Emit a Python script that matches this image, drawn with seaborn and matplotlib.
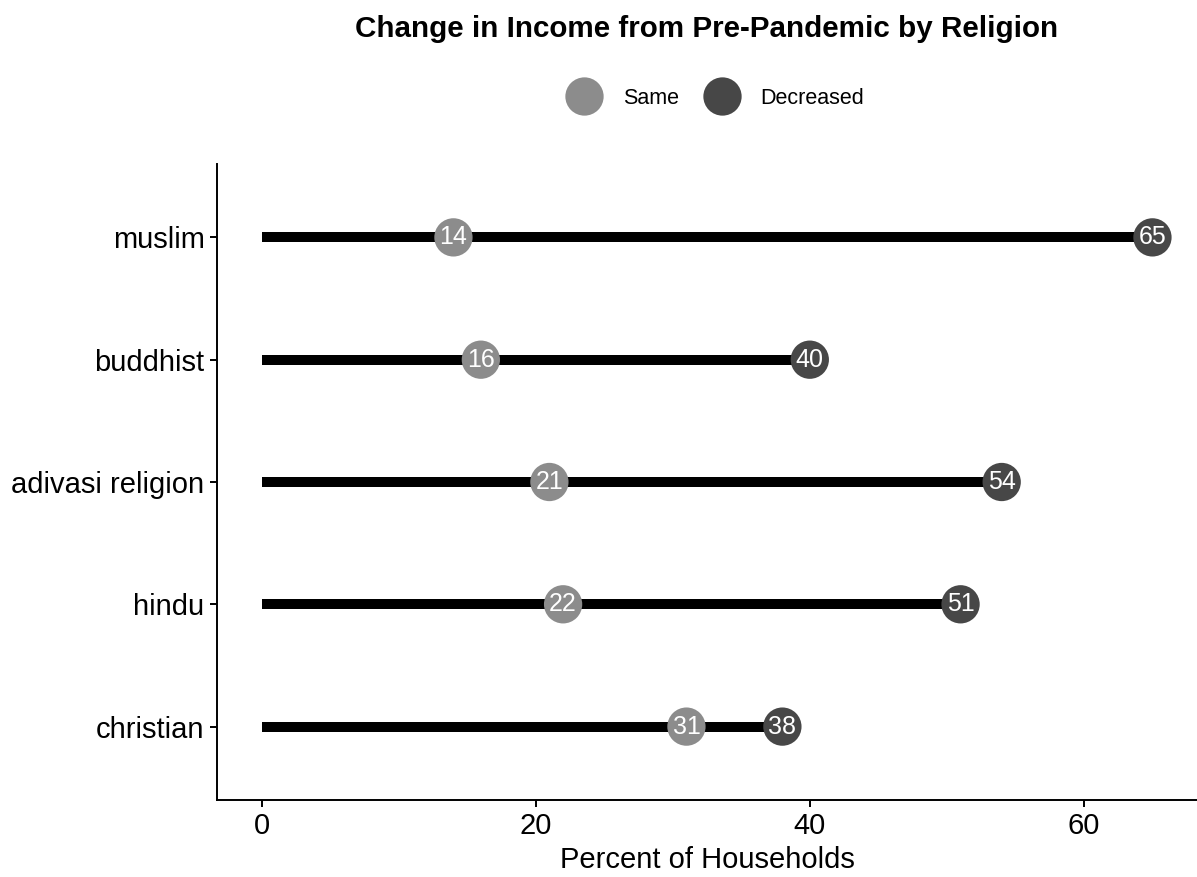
import matplotlib
matplotlib.use("Agg")
import matplotlib.pyplot as plt
import numpy as np
import pandas as pd
import seaborn as sns

sns.set_theme(style="ticks")
plt.rcParams['font.family'] = ['Liberation Sans', 'DejaVu Sans']

# data (bottom to top)
religions = ['christian', 'hindu', 'adivasi religion', 'buddhist', 'muslim']
same_pct = [31, 22, 21, 16, 14]
decreased_pct = [38, 51, 54, 40, 65]

df = pd.DataFrame({
    'religion': religions * 2,
    'status': ['Same'] * len(religions) + ['Decreased'] * len(religions),
    'pct': same_pct + decreased_pct,
})

palette = {'Same': '#8c8c8c', 'Decreased': '#474747'}

fig = plt.figure(figsize=(11.97, 8.77), dpi=100)
ax = fig.add_axes([0.1813, 0.0878, 0.8187, 0.7252])

sns.scatterplot(data=df, x='pct', y='religion', hue='status', hue_order=['Same', 'Decreased'],
                palette=palette, s=760, linewidth=0, ax=ax, zorder=3)

# thick black bar from 0 to the larger value
ax.hlines(y=religions, xmin=0, xmax=np.maximum(same_pct, decreased_pct),
          color='black', linewidth=7.2, zorder=1)

# value labels inside the dots
for _, r in df.iterrows():
    ax.text(r['pct'], r['religion'], f"{r['pct']}", color='white', fontsize=18,
            ha='center', va='center', zorder=4)

ax.set_xlim(-3.25, 68.25)
ax.set_ylim(-0.6, 4.6)
ax.set_xticks([0, 20, 40, 60])
ax.set_xlabel('Percent of Households', fontsize=21, color='black', labelpad=4)
ax.set_ylabel('')
ax.tick_params(axis='both', labelsize=21, labelcolor='black', length=5, width=1.4,
               color='black', pad=4)
for side in ['left', 'bottom']:
    ax.spines[side].set_linewidth(1.4)
    ax.spines[side].set_color('black')
sns.despine(ax=ax)

fig.suptitle('Change in Income from Pre-Pandemic by Religion', x=0.5906, y=0.967,
             fontsize=21.3, fontweight='bold', va='center', color='black')

sns.move_legend(ax, 'center', bbox_to_anchor=(0.596, 0.888), bbox_transform=fig.transFigure,
                ncol=2, title=None, frameon=False, fontsize=15.5, handletextpad=0.8,
                columnspacing=1.0)
for t in ax.get_legend().get_texts():
    t.set_color('black')

fig.savefig('out.png', dpi=100)
